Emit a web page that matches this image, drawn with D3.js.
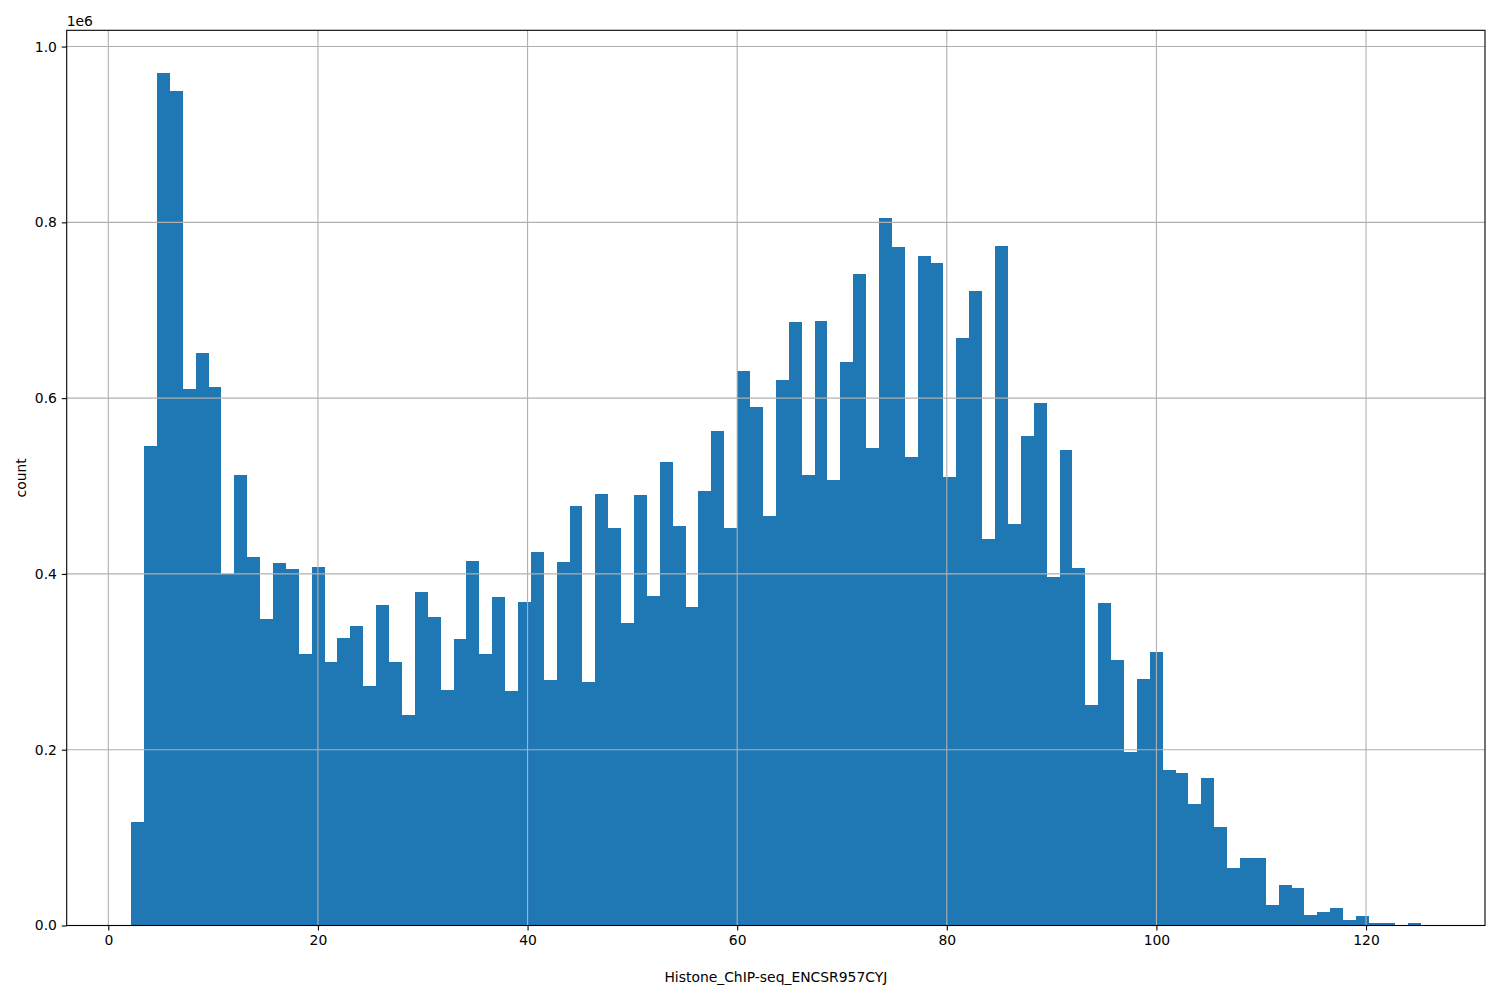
<!DOCTYPE html>
<html>
<head>
<meta charset="utf-8">
<script src="https://cdn.jsdelivr.net/npm/d3@7"></script>
<style>
  html, body { margin: 0; padding: 0; background: #fff; }
  svg { display: block; }
  text { font-family: "DejaVu Sans", sans-serif; fill: #000; }
</style>
</head>
<body>
<svg id="chart" width="1500" height="1000"></svg>
<script>
// Histogram: 100 equal-width bins from binStart to binEnd
const binStart = 2.18;
const binEnd = 125.2;
const counts = [
  0.118, 0.545, 0.970, 0.949, 0.610, 0.651, 0.613, 0.3995, 0.5125, 0.419,
  0.3487, 0.4124, 0.4056, 0.3089, 0.4078, 0.2997, 0.3271, 0.3407, 0.2725, 0.3646,
  0.2997, 0.2398, 0.3794, 0.351, 0.2679, 0.326, 0.4147, 0.3089, 0.3737, 0.2668,
  0.368, 0.4249, 0.2793, 0.4135, 0.4773, 0.277, 0.4909, 0.4522, 0.3441, 0.4898,
  0.3748, 0.5273, 0.4545, 0.3623, 0.4943, 0.5626, 0.4522, 0.6308, 0.5899, 0.466,
  0.6206, 0.6866, 0.5125, 0.6877, 0.5068, 0.641, 0.7412, 0.5432, 0.8049, 0.7719,
  0.533, 0.7617, 0.7537, 0.5102, 0.6684, 0.7218, 0.4397, 0.773, 0.4568, 0.557,
  0.594, 0.3965, 0.541, 0.4067, 0.2509, 0.3669, 0.302, 0.1974, 0.2804, 0.3111,
  0.1769, 0.1735, 0.1382, 0.1678, 0.1121, 0.0654, 0.0768, 0.0768, 0.0233, 0.0461,
  0.0427, 0.0119, 0.0154, 0.0199, 0.0063, 0.0108, 0.0029, 0.0029, 0.0004, 0.0029
].map(v => v * 1e6);
const xTicks = [0, 20, 40, 60, 80, 100, 120];
const yTicks = [0, 200000, 400000, 600000, 800000, 1000000];
const xLabel = "Histone_ChIP-seq_ENCSR957CYJ";
const yLabel = "count";
const offsetLabel = "1e6";

const svg = d3.select("#chart");
const L = 66.7, T = 30.3, R = 1485, B = 925.5;

const nBins = counts.length;
const bw = (binEnd - binStart) / nBins;
const bins = counts.map((c, i) => ({ x0: binStart + i * bw, x1: binStart + (i + 1) * bw, c }));

const span = binEnd - binStart;
const x = d3.scaleLinear()
  .domain([binStart - 0.05 * span, binEnd + 0.05 * span])
  .range([L, R]);
const y = d3.scaleLinear()
  .domain([0, d3.max(counts) * 1.05])
  .range([B, T]);

// bars
svg.append("g").attr("shape-rendering", "crispEdges")
  .selectAll("rect").data(bins).enter().append("rect")
  .attr("x", d => x(d.x0))
  .attr("width", d => x(d.x1) - x(d.x0))
  .attr("y", d => y(d.c))
  .attr("height", d => B - y(d.c))
  .attr("fill", "#1f77b4");

// grid (drawn above bars)
const grid = svg.append("g").attr("stroke", "#b0b0b0").attr("stroke-width", 1.1);
grid.selectAll(".gx").data(xTicks).enter().append("line")
  .attr("x1", d => x(d)).attr("x2", d => x(d)).attr("y1", T).attr("y2", B);
grid.selectAll(".gy").data(yTicks).enter().append("line")
  .attr("y1", d => y(d)).attr("y2", d => y(d)).attr("x1", L).attr("x2", R);

// axes
const xAxis = svg.append("g").attr("transform", `translate(0,${B})`)
  .call(d3.axisBottom(x).tickValues(xTicks).tickFormat(d3.format("d")).tickSize(4.9).tickPadding(4.9));
const yAxis = svg.append("g").attr("transform", `translate(${L},0)`)
  .call(d3.axisLeft(y).tickValues(yTicks).tickFormat(d => (d / 1e6).toFixed(1)).tickSize(4.9).tickPadding(4.9));
[xAxis, yAxis].forEach(a => {
  a.select(".domain").remove();
  a.selectAll("line").attr("stroke", "#000").attr("stroke-width", 1.1);
  a.selectAll("text").attr("font-size", "13.9px").attr("font-family", "DejaVu Sans, sans-serif").attr("fill", "#000");
});

// spines
svg.append("rect").attr("x", L).attr("y", T).attr("width", R - L).attr("height", B - T)
  .attr("fill", "none").attr("stroke", "#000").attr("stroke-width", 1.1);

// labels
svg.append("text").attr("x", (L + R) / 2).attr("y", 982).attr("text-anchor", "middle")
  .attr("font-size", "13.9px").text(xLabel);
svg.append("text").attr("transform", `translate(26,${(T + B) / 2}) rotate(-90)`)
  .attr("text-anchor", "middle").attr("font-size", "13.9px").text(yLabel);
svg.append("text").attr("x", L).attr("y", 26).attr("font-size", "13.9px").text(offsetLabel);
</script>
</body>
</html>
